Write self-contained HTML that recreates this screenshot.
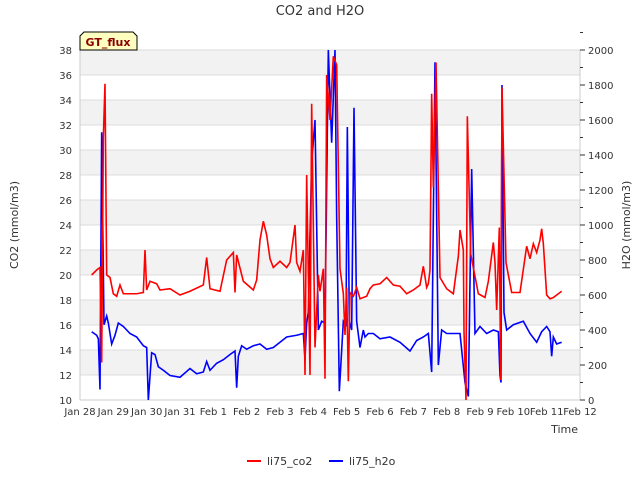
<!DOCTYPE html>
<html><head><meta charset="utf-8"><style>
body{margin:0;background:#fff;font-family:"Liberation Sans","DejaVu Sans",sans-serif}
svg text{font-family:"DejaVu Sans","Liberation Sans",sans-serif;fill:#333}
</style></head><body>
<svg id="chart" width="640" height="480" xmlns="http://www.w3.org/2000/svg">
<text x="320" y="15" font-size="13" text-anchor="middle">CO2 and H2O</text>
<g id="bands"></g>
<g id="axes"></g>
<g id="series"></g>
<g>
<path d="M80,50 L80,36 L84,32 L133,32 L137,36 L137,50 Z" fill="#ffffc0" stroke="#000" stroke-width="1"/>
<text x="108" y="46" font-size="11" font-weight="bold" text-anchor="middle" style="fill:#8b0000">GT_flux</text>
</g>
<text font-size="11" transform="translate(18,225) rotate(-90)" text-anchor="middle">CO2 (mmol/m3)</text>
<text font-size="11" transform="translate(630,225) rotate(-90)" text-anchor="middle">H2O (mmol/m3)</text>
<text x="578" y="433" font-size="11" text-anchor="end">Time</text>
<g>
<line x1="247" y1="461" x2="261" y2="461" stroke="#f00" stroke-width="2"/>
<text x="267" y="465" font-size="11">li75_co2</text>
<line x1="329" y1="461" x2="343" y2="461" stroke="#00f" stroke-width="2"/>
<text x="349" y="465" font-size="11">li75_h2o</text>
</g>
</svg>
<script>
const xTickLabels=["Jan 28","Jan 29","Jan 30","Jan 31","Feb 1","Feb 2","Feb 3","Feb 4","Feb 5","Feb 6","Feb 7","Feb 8","Feb 9","Feb 10","Feb 11","Feb 12"];
const co2Days=[0.35,0.5,0.6,0.65,0.7,0.75,0.8,0.9,1.0,1.1,1.2,1.3,1.5,1.7,1.9,1.95,2.0,2.1,2.3,2.4,2.7,3.0,3.3,3.7,3.8,3.9,4.2,4.4,4.6,4.65,4.7,4.9,5.2,5.3,5.4,5.5,5.6,5.7,5.8,6.0,6.2,6.3,6.45,6.5,6.6,6.7,6.75,6.8,6.9,6.95,7.05,7.15,7.2,7.3,7.35,7.4,7.5,7.6,7.7,7.8,7.9,7.95,8.0,8.05,8.1,8.2,8.3,8.4,8.6,8.7,8.8,9.0,9.2,9.4,9.6,9.8,10.0,10.2,10.3,10.4,10.45,10.5,10.55,10.6,10.68,10.8,11.0,11.2,11.35,11.4,11.5,11.52,11.58,11.62,11.72,11.95,12.15,12.25,12.4,12.45,12.5,12.58,12.62,12.66,12.78,12.95,13.2,13.4,13.5,13.6,13.7,13.8,13.85,13.9,14.0,14.1,14.2,14.35,14.45];
const co2Vals=[20.0,20.4,20.6,13.0,31,35.3,20,19.8,18.5,18.3,19.2,18.5,18.5,18.5,18.6,22,18.8,19.5,19.3,18.8,18.9,18.4,18.7,19.2,21.4,18.9,18.7,21.2,21.8,18.6,21.6,19.5,18.8,19.6,22.8,24.3,23.2,21.3,20.6,21.1,20.6,21.0,24.0,21.0,20.3,22,12.0,28,12,33.7,14.2,20,18.7,20.5,11.7,36,32.4,37.5,36.8,20.5,18.5,15.2,19,11.5,18.6,18.3,19,18.1,18.3,18.9,19.2,19.3,19.8,19.2,19.1,18.5,18.8,19.2,20.7,19.0,19.3,20.4,34.5,27,37,19.8,18.9,18.5,21.5,23.6,22,15.5,10,32.7,21.7,18.5,18.2,19.5,22.6,21,17.2,23.8,11.6,35.0,21,18.6,18.6,22.3,21.3,22.5,21.8,22.8,23.7,22.5,18.4,18.1,18.2,18.5,18.7];
const h2oDays=[0.35,0.5,0.55,0.6,0.65,0.72,0.8,0.85,0.95,1.05,1.15,1.3,1.5,1.7,1.9,2.0,2.05,2.15,2.25,2.35,2.5,2.7,3.0,3.3,3.5,3.7,3.8,3.9,4.1,4.3,4.5,4.65,4.7,4.75,4.85,5.0,5.2,5.4,5.6,5.8,6.0,6.2,6.5,6.7,6.75,6.8,6.85,6.95,7.05,7.15,7.25,7.35,7.45,7.55,7.65,7.7,7.78,7.9,7.98,8.02,8.08,8.15,8.22,8.3,8.4,8.5,8.55,8.65,8.8,9.0,9.3,9.6,9.9,10.1,10.3,10.45,10.55,10.65,10.75,10.85,11.0,11.2,11.4,11.55,11.65,11.75,11.85,12.0,12.2,12.4,12.55,12.6,12.63,12.66,12.72,12.8,13.0,13.3,13.5,13.7,13.85,14.0,14.1,14.15,14.2,14.3,14.45];
const h2oVals=[390,370,350,60,1530,430,480,440,320,370,440,420,380,360,310,300,0,270,260,190,170,140,130,180,150,160,220,170,210,230,260,280,70,250,310,290,310,320,290,300,330,360,370,380,230,440,500,1360,1600,400,450,440,2000,1470,2000,1050,50,450,430,1560,450,400,1670,450,300,400,360,380,380,350,360,330,280,340,360,380,160,1930,200,400,380,380,380,100,20,1320,380,420,380,400,390,140,100,1800,500,400,430,450,380,330,390,420,390,250,360,320,330];
const co2Ticks=[10,12,14,16,18,20,22,24,26,28,30,32,34,36,38];
const h2oTicks=[0,200,400,600,800,1000,1200,1400,1600,1800,2000];

const NS="http://www.w3.org/2000/svg";
const L=80,R=580,T=50,B=400;
const xS=d=>L+d*(R-L)/15;
const yC=v=>B-(v-10)*(B-T)/28;
const yH=v=>B-v*(B-T)/2000;
function mk(tag,attrs,parent){const e=document.createElementNS(NS,tag);for(const k in attrs)e.setAttribute(k,attrs[k]);parent.appendChild(e);return e;}
const bands=document.getElementById('bands'),axes=document.getElementById('axes'),series=document.getElementById('series');
for(let i=0;i<co2Ticks.length-1;i++){
  const r=mk('rect',{x:L,y:yC(co2Ticks[i+1]),width:R-L,height:yC(co2Ticks[i])-yC(co2Ticks[i+1]),fill:(i%2===1)?'#f2f2f2':'#ffffff'},bands);
  
  
}
co2Ticks.forEach(v=>{
  const g=mk('line',{x1:L,x2:R,y1:yC(v),y2:yC(v),stroke:'#dcdcdc','stroke-width':1},bands);
  
  
  const t=mk('text',{x:L-8,y:yC(v)+4,'font-size':10,'text-anchor':'end'},axes);
  t.textContent=v;
  
  
});
mk('line',{x1:L,x2:L,y1:T,y2:B,stroke:'#ccc'},axes);
mk('line',{x1:R,x2:R,y1:T,y2:B,stroke:'#ccc'},axes);
mk('line',{x1:L,x2:R,y1:B,y2:B,stroke:'#ccc'},axes);
h2oTicks.forEach(v=>{
  mk('line',{x1:R,x2:R+5,y1:yH(v),y2:yH(v),stroke:'#333'},axes);
  mk('line',{x1:R,x2:R+3,y1:yH(v+100),y2:yH(v+100),stroke:'#333'},axes);
  const t=mk('text',{x:R+8,y:yH(v)+4,'font-size':10},axes);
  t.textContent=v;
  
  
});
xTickLabels.forEach((lab,i)=>{
  const t=mk('text',{x:xS(i),y:B+15,'font-size':10,'text-anchor':'middle'},axes);
  t.textContent=lab;
  
  
});
const h=mk('polyline',{points:h2oDays.map((d,i)=>xS(d)+','+yH(h2oVals[i])).join(' '),fill:'none',stroke:'#0000ff','stroke-width':1.6},series);


const c=mk('polyline',{points:co2Days.map((d,i)=>xS(d)+','+yC(co2Vals[i])).join(' '),fill:'none',stroke:'#ff0000','stroke-width':1.6},series);


</script>
</body></html>
